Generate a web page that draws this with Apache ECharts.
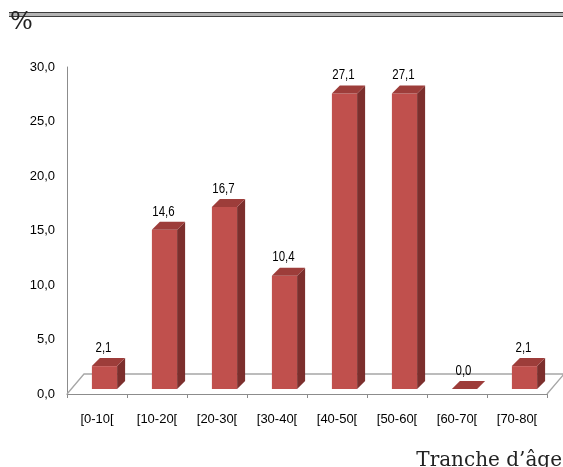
<!DOCTYPE html>
<html>
<head>
<meta charset="utf-8">
<script src="https://cdn.jsdelivr.net/npm/echarts@6/dist/echarts.min.js"></script>
<style>
  html, body { margin: 0; padding: 0; background: #fff; }
  #chart { width: 563px; height: 467px; }
</style>
</head>
<body>
<div id="chart"></div>
<script>
// Age groups and share of each group (%)
const categories = ['[0-10[', '[10-20[', '[20-30[', '[30-40[', '[40-50[', '[50-60[', '[60-70[', '[70-80['];
const values = [2.1, 14.6, 16.7, 10.4, 27.1, 27.1, 0.0, 2.1];
const yTicks = [0, 5, 10, 15, 20, 25, 30];

const SANS = "'Liberation Sans', Arial, sans-serif";
const SERIF = "'DejaVu Serif', 'Liberation Serif', serif";

// 3D box look
const FRONT = '#c0504d';
const TOP = '#9d3d3a';
const SIDE = '#7c2f2d';
const DEPTH_X = 8, DEPTH_Y = 8;     // box depth projection
const SHIFT_X = 7.5, SHIFT_Y = 5;   // bars sit a little behind the axis plane
const FLOOR_X = 17, FLOOR_Y = 20;   // floor depth projection

const fmt = v => v.toFixed(1).replace('.', ',');

const chart = echarts.init(document.getElementById('chart'));

function renderBox(params, api) {
  const i = api.value(0), v = api.value(1);
  const base = api.coord([i, 0]);
  const top = api.coord([i, v]);
  const bw = api.size([1, 0])[0] * 0.42;
  const cx = base[0] + SHIFT_X;
  const by = base[1] - SHIFT_Y;
  const ty = top[1] - SHIFT_Y;
  const l = cx - bw / 2, r = cx + bw / 2;
  const children = [];
  if (by - ty > 0) {
    children.push({ type: 'rect', shape: { x: l, y: ty, width: bw, height: by - ty }, style: { fill: FRONT } });
    children.push({ type: 'polygon', shape: { points: [[r, ty], [r + DEPTH_X, ty - DEPTH_Y], [r + DEPTH_X, by - DEPTH_Y], [r, by]] }, style: { fill: SIDE } });
  }
  children.push({ type: 'polygon', shape: { points: [[l, ty], [l + DEPTH_X, ty - DEPTH_Y], [r + DEPTH_X, ty - DEPTH_Y], [r, ty]] }, style: { fill: TOP } });
  // value label, horizontally squeezed for a condensed look
  const lx = cx - 1, ly = ty - DEPTH_Y - 3;
  children.push({
    type: 'text',
    x: lx, y: ly, scaleX: 0.82,
    style: {
      text: fmt(v), x: 0, y: 0,
      align: 'center', verticalAlign: 'bottom',
      font: '14px ' + SANS, fill: '#000'
    }
  });
  return { type: 'group', children };
}

function renderFloor(params, api) {
  const cs = params.coordSys;
  const x0 = cs.x, x1 = cs.x + cs.width, yb = cs.y + cs.height;
  return {
    type: 'polyline',
    shape: { points: [[x0, yb], [x0 + FLOOR_X, yb - FLOOR_Y], [x1 + FLOOR_X, yb - FLOOR_Y], [x1, yb]] },
    style: { stroke: '#a6a6a6', lineWidth: 1.3, fill: 'none' }
  };
}

const axisText = { color: '#000', fontSize: 13, fontFamily: SANS };

chart.setOption({
  animation: false,
  backgroundColor: '#fff',
  grid: { left: 67, right: 16, top: 67, bottom: 73 },
  xAxis: {
    type: 'category',
    data: categories,
    axisLine: { lineStyle: { color: '#8c8c8c', width: 1 } },
    axisTick: { show: true, interval: 0, length: 4, lineStyle: { color: '#8c8c8c' } },
    axisLabel: Object.assign({ interval: 0, margin: 19 }, axisText)
  },
  yAxis: {
    type: 'value',
    min: yTicks[0], max: yTicks[yTicks.length - 1], interval: 5,
    axisLine: { show: true, lineStyle: { color: '#8c8c8c', width: 1 } },
    axisTick: { show: false },
    splitLine: { show: false },
    axisLabel: Object.assign({ margin: 12, formatter: v => fmt(v) }, axisText)
  },
  series: [
    { type: 'custom', renderItem: renderFloor, data: [[0, 0]], z: 1, silent: true },
    { type: 'custom', renderItem: renderBox, data: values.map((v, i) => [i, v]), z: 2,
      encode: { x: 0, y: 1 } }
  ],
  graphic: [
    { type: 'rect', shape: { x: 9, y: 12, width: 560, height: 5 }, style: { fill: '#b4b4b4' }, z: 10 },
    { type: 'line', shape: { x1: 9, y1: 12.5, x2: 563, y2: 12.5 }, style: { stroke: '#3c3c3c', lineWidth: 1 }, z: 11 },
    { type: 'line', shape: { x1: 9, y1: 16.5, x2: 563, y2: 16.5 }, style: { stroke: '#3c3c3c', lineWidth: 1 }, z: 11 },
    { type: 'text', left: 10, top: 11, style: { text: '%', font: '24px ' + SERIF, fill: '#222' }, z: 12 },
    { type: 'text', right: 1, top: 451, style: { text: 'Tranche d’âge', font: '20px ' + SERIF, fill: '#222' }, z: 12 }
  ]
});
</script>
</body>
</html>
